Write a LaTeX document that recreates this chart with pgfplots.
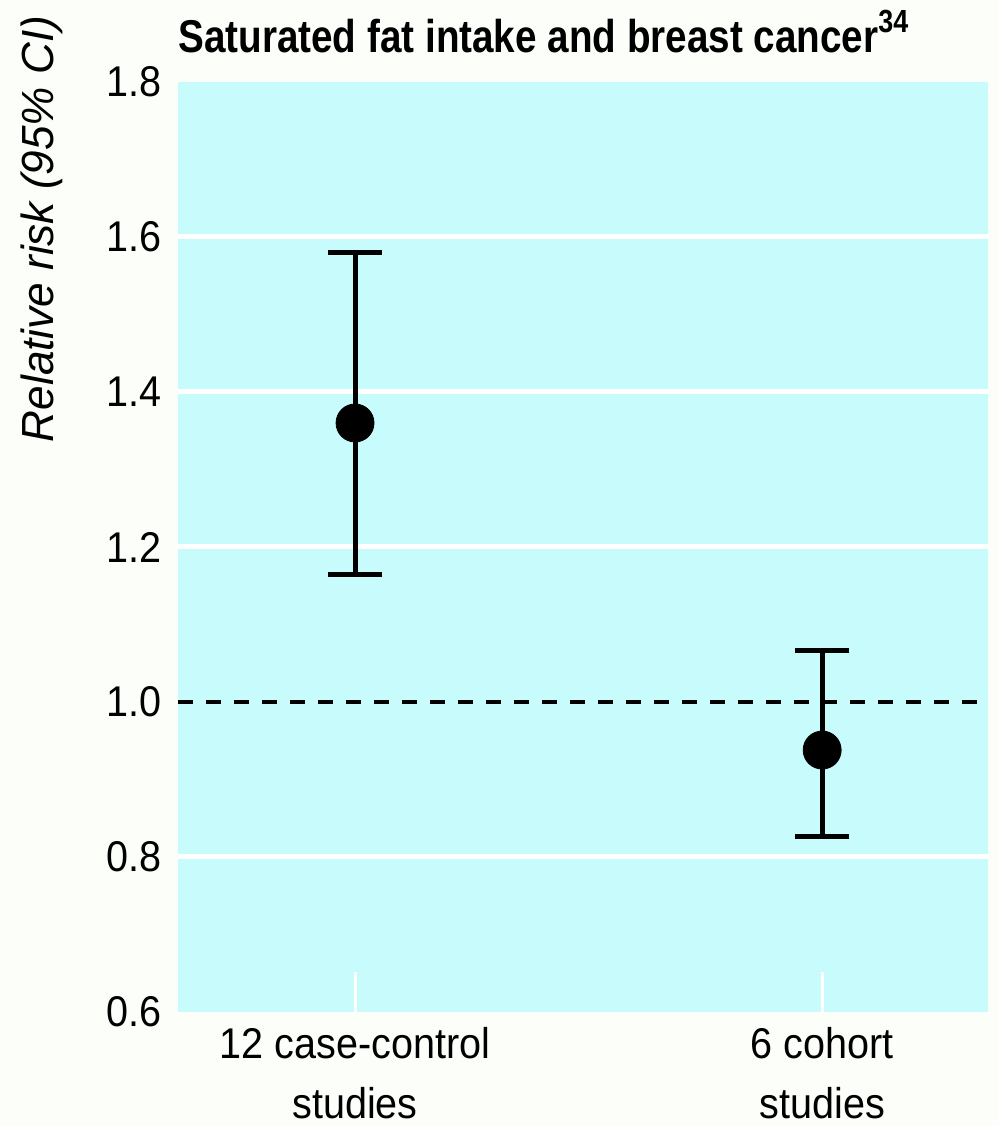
\documentclass[border=0pt]{standalone}
\usepackage{fontspec}
\setmainfont{Liberation Sans}[FakeStretch=0.92]
\newfontfamily\titlefont{Liberation Sans}[FakeStretch=0.84]
\newfontfamily\labelfont{Liberation Sans}[FakeStretch=0.98]
\usepackage{pgfplots}
\pgfplotsset{compat=1.18}
\usetikzlibrary{calc,backgrounds}
\definecolor{plotbg}{RGB}{200,251,252}
\definecolor{pagebg}{RGB}{252,254,250}
\begin{document}
\begin{tikzpicture}
\begin{axis}[
  scale only axis,
  width=405pt, height=465pt,
  xmin=0.621, xmax=2.355,
  ymin=0.6, ymax=1.8,
  axis background/.style={fill=plotbg},
  axis line style={draw=none},
  ytick={0.8,1.2,1.4,1.6},
  extra y ticks={0.6,1.0,1.8},
  extra y tick style={grid=none},
  extra y tick labels={0.6,1.0,1.8},
  yticklabels={0.8,1.2,1.4,1.6},
  ymajorgrids,
  major grid style={white, line width=2.5pt},
  ytick style={draw=none},
  xtick={1,2},
  xtick pos=lower,
  xticklabels={{12 case-control\\studies},{6 cohort\\studies}},
  tick align=inside,
  major tick length=20pt,
  xtick style={white, line width=1.5pt},
  yticklabel style={font={\fontsize{21.5pt}{26pt}\selectfont}, anchor=east, inner sep=0pt, xshift=-8pt},
  xticklabel style={font={\fontsize{21.5pt}{30pt}\selectfont}, align=center, anchor=north, inner sep=0pt, yshift=-7.5pt},
  ylabel={Relative risk (95\% CI)},
  ylabel style={font={\labelfont\itshape\fontsize{22.5pt}{26pt}\selectfont}, at={(axis description cs:-0.154,0.842)}, anchor=base, rotate=0, inner sep=0pt},
  title={\titlefont\bfseries Saturated fat intake and breast cancer\raisebox{0.45em}{\fontsize{16pt}{18pt}\selectfont 34}},
  title style={font={\fontsize{23pt}{27pt}\selectfont}, at={(axis description cs:0,1)}, anchor=base west, yshift=8.5pt, inner sep=0pt},
  clip=false,
]
\addplot[black, line width=2pt, dash pattern=on 7.5pt off 6.5pt] coordinates {(0.621,1.0) (2.355,1.0)};
\addplot[black, only marks, mark=*, mark size=9.5pt,
  error bars/.cd, y dir=both, y explicit,
  error bar style={line width=2.5pt, black},
  error mark options={rotate=90, mark size=13.5pt, line width=2.5pt, black}]
  coordinates {
    (1,1.36) += (0,0.22) -= (0,0.195)
    (2,0.938) += (0,0.129) -= (0,0.111)
  };
\end{axis}
\begin{scope}[on background layer]
\fill[pagebg] ($(current axis.south west)+(-89pt,-57pt)$) rectangle ($(current axis.north east)+(5.5pt,41pt)$);
\end{scope}
\end{tikzpicture}
\end{document}
